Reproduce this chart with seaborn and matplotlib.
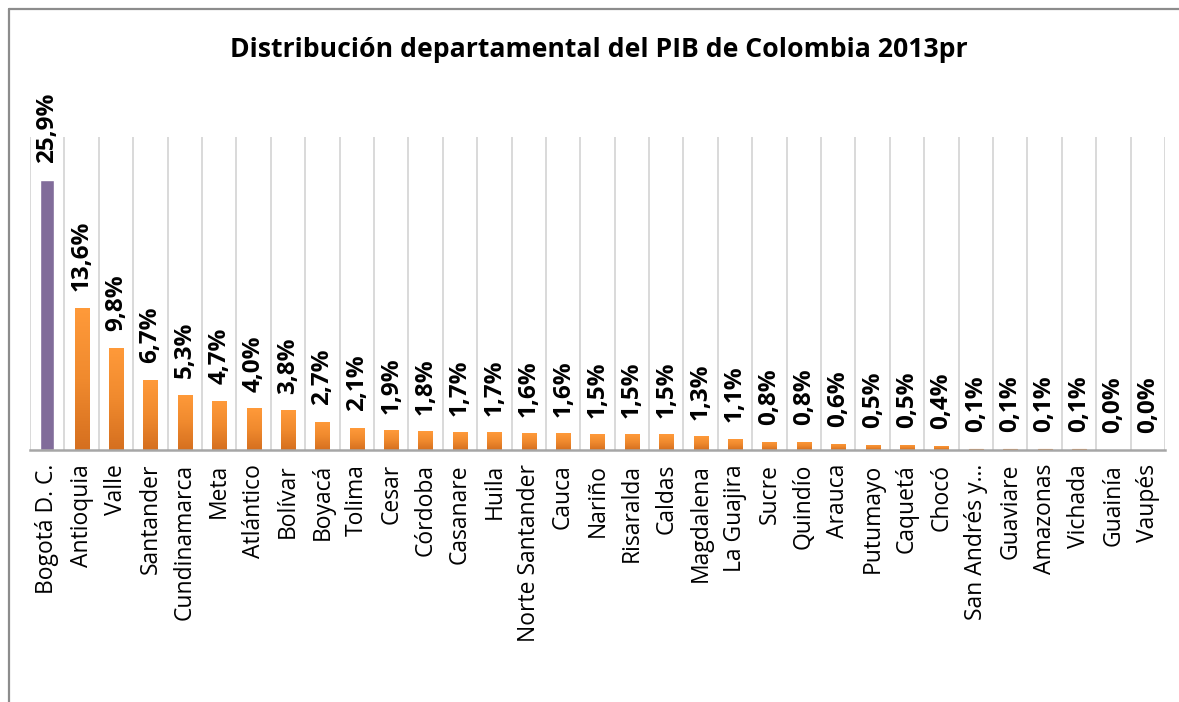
import numpy as np
import pandas as pd
import matplotlib
matplotlib.use("Agg")
import matplotlib.pyplot as plt
import seaborn as sns
from matplotlib.colors import LinearSegmentedColormap
from matplotlib.lines import Line2D

departamentos = [
    "Bogotá D. C.", "Antioquia", "Valle", "Santander", "Cundinamarca", "Meta",
    "Atlántico", "Bolívar", "Boyacá", "Tolima", "Cesar", "Córdoba", "Casanare",
    "Huila", "Norte Santander", "Cauca", "Nariño", "Risaralda", "Caldas",
    "Magdalena", "La Guajira", "Sucre", "Quindío", "Arauca", "Putumayo",
    "Caquetá", "Chocó", "San Andrés y…", "Guaviare", "Amazonas", "Vichada",
    "Guainía", "Vaupés",
]
participacion = [
    25.9, 13.6, 9.8, 6.7, 5.3, 4.7, 4.0, 3.8, 2.7, 2.1, 1.9, 1.8, 1.7,
    1.7, 1.6, 1.6, 1.5, 1.5, 1.5, 1.3, 1.1, 0.8, 0.8, 0.6, 0.5,
    0.5, 0.4, 0.1, 0.1, 0.1, 0.1, 0.0, 0.0,
]
titulo = "Distribución departamental del PIB de Colombia 2013pr"

sns.set_theme(style="white")
plt.rcParams["font.family"] = ["Open Sans", "DejaVu Sans"]

W, H = 1179, 702
fig = plt.figure(figsize=(W / 100, H / 100), dpi=100)
fig.patch.set_facecolor("white")

x0, x1 = 30, 1165
y_top, y_base = 137, 450
ax = fig.add_axes([x0 / W, 1 - y_base / H, (x1 - x0) / W, (y_base - y_top) / H])

df = pd.DataFrame({"depto": departamentos, "pib": participacion})
df["grupo"] = ["capital"] + ["resto"] * (len(df) - 1)

sns.barplot(
    data=df, x="depto", y="pib", hue="grupo",
    palette={"capital": "#8064A2", "resto": "#F79646"},
    width=0.41, dodge=False, legend=False, ax=ax, zorder=3,
)

ax.set_ylim(0, 30)
ax.set_xlim(-0.5, len(df) - 0.5)
ax.set_xlabel("")
ax.set_ylabel("")
ax.set_yticks([])

# vertical separators between categories
for b in np.arange(-0.5, len(df), 1.0):
    ax.axvline(b, color="#D9D9D9", lw=1.4, zorder=1)

for side in ["top", "right", "left"]:
    ax.spines[side].set_visible(False)
ax.spines["bottom"].set_color("#A6A6A6")
ax.spines["bottom"].set_linewidth(1.8)
ax.spines["bottom"].set_zorder(5)

# vertical gradient fill on the orange bars
grad = LinearSegmentedColormap.from_list("naranja", ["#D56F1F", "#F08A2E", "#FF9A3A"])
gimg = np.linspace(0, 1, 256).reshape(-1, 1)
patches = sorted(ax.patches, key=lambda p: p.get_x())
for i, p in enumerate(patches):
    if i == 0 or p.get_height() <= 0:
        continue
    bx, by, bw, bh = p.get_x(), p.get_y(), p.get_width(), p.get_height()
    if bh < 0.3:
        p.set_facecolor("#E07A25")
        p.set_edgecolor("#E07A25")
        p.set_linewidth(0.8)
        continue
    im = ax.imshow(gimg, cmap=grad, aspect="auto", origin="lower",
                   extent=[bx, bx + bw, by, by + bh], zorder=4,
                   interpolation="bilinear")
    im.set_clip_path(p)

ax.set_xlim(-0.5, len(df) - 0.5)
ax.set_ylim(0, 30)

# value labels above each bar
for i, (p, v) in enumerate(zip(patches, participacion)):
    ax.annotate(
        f"{v:.1f}".replace(".", ",") + "%",
        xy=(p.get_x() + p.get_width() / 2, v),
        xytext=(0, 12), textcoords="offset points",
        rotation=90, ha="center", va="bottom",
        fontsize=17.5, fontweight="bold", color="black",
        annotation_clip=False, zorder=6,
    )

ax.tick_params(axis="x", length=0, pad=10)
ax.set_xticks(range(len(df)))
ax.set_xticklabels(departamentos, rotation=90, fontsize=16.5, color="black",
                   va="top", ha="center")

fig.text(599 / W, 1 - 50 / H, titulo, ha="center", va="center",
         fontsize=19.2, fontweight="bold", color="black")

# chart frame
fig.add_artist(Line2D([8.5 / W, 8.5 / W], [0, 1 - 8.5 / H],
                      transform=fig.transFigure, color="#8C8C8C", lw=1.6))
fig.add_artist(Line2D([8.5 / W, 1.0], [1 - 8.5 / H, 1 - 8.5 / H],
                      transform=fig.transFigure, color="#8C8C8C", lw=1.6))

fig.savefig("out.png", dpi=100, facecolor="white")
